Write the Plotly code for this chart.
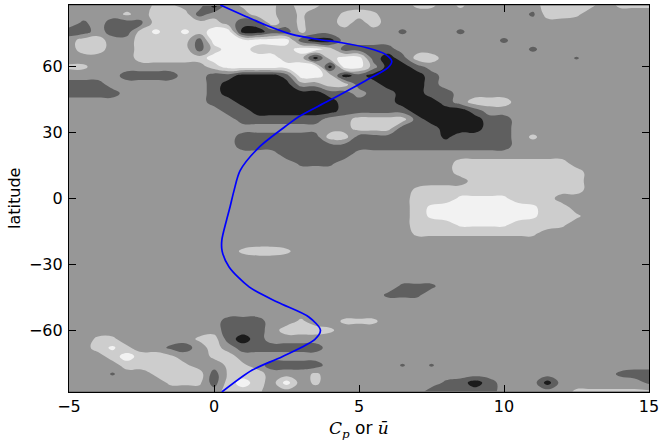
import numpy as np
import plotly.graph_objects as go

# Longitude-mean field on a 0.5 x 4 degree grid, one string per latitude row
# (north to south), one character per grid column from -5 to 15.
# Codes: 0 black, 1 dark, 2 background, 3 light, 4 white; letters are
# in-between values for small spots.
FIELD_ROWS = [
    "22222 2ll22 02l3l 23l22 2222l l2l22 22233 3l2ll l",  # 88
    "2222l 23331 2223l 2l22l 3l222 22222 22d33 l2222 2",  # 84
    "2d211 d3333 32113 2l223 23222 22222 22222 22222 2",  # 80
    "11211 3w3w3 44001 1l222 222d2 22d22 22222 22222 2",  # 76
    "23322 33331 44444 41002 22222 22222 d2222 22222 2",  # 72
    "23322 33331 34433 34431 11122 22222 22d22 22222 2",  # 68
    "22222 33333 44444 33034 41013 32222 22222 e2222 2",  # 64
    "ll222 22222 34444 44404 42001 22222 22222 22222 2",  # 60
    "22221 11122 11000 14430 10000 12222 22222 22222 2",  # 56
    "11122 22222 10000 02233 11000 12222 22222 22222 2",  # 52
    "11112 22222 10000 00011 21100 11222 22222 22222 2",  # 48
    "22222 22222 11000 00001 11100 01233 32222 22222 2",  # 44
    "22222 22222 21100 00001 11110 00012 22222 22222 2",  # 40
    "22222 22222 22111 11122 33331 00001 12222 22222 2",  # 36
    "22222 22222 22222 22222 33311 10001 12222 22222 2",  # 32
    "22222 22222 22111 11133 11111 1k111 12l22 22222 2",  # 28
    "22222 22222 22111 11111 11111 11111 12222 22222 2",  # 24
    "22222 22222 22222 11111 22222 22222 22222 22222 2",  # 20
    "22222 22222 22222 2ddd2 22222 22333 33333 22222 2",  # 16
    "22222 22222 22222 22222 22222 22333 33333 32222 2",  # 12
    "22222 22222 22222 22222 22222 22233 33333 32222 2",  # 8
    "22222 22222 22222 22222 2222l 33333 33333 32222 2",  # 4
    "22222 22222 22222 22222 22223 33www w3332 22222 2",  # 0
    "22222 22222 22222 22222 22223 w4444 44w33 22222 2",  # -4
    "22222 22222 22222 22222 22223 w4444 44w33 l2222 2",  # -8
    "22222 22222 22222 22222 22223 33www w333l 22222 2",  # -12
    "22222 22222 22222 22222 2222l lllll lll22 22222 2",  # -16
    "22222 22222 22222 22222 22222 22222 22222 22222 2",  # -20
    "22222 22222 22l33 l2222 22222 22222 22222 22222 2",  # -24
    "22222 22222 22222 22222 22222 22222 22222 22222 2",  # -28
    "22222 22222 22222 22222 22222 22222 22222 22222 2",  # -32
    "22222 22222 22222 22222 22222 22222 22222 22222 2",  # -36
    "22222 22222 22222 22222 222dd d2222 22222 22222 2",  # -40
    "22222 22222 22222 22222 22ddd 22222 22222 22222 2",  # -44
    "22222 22222 22222 22222 22222 22222 22222 22222 2",  # -48
    "22222 22222 22222 22222 22222 22222 22222 22222 2",  # -52
    "22222 22222 21112 2l22l ll222 22222 22222 22222 2",  # -56
    "22222 22222 21112 333l2 22222 22222 22222 22222 2",  # -60
    "22ll2 2222l 31012 22222 22222 22222 22222 22222 2",  # -64
    "223wl 22d12 32111 11122 22222 22222 22222 22222 2",  # -68
    "22234 33l22 l3222 22222 22222 22222 22222 22222 2",  # -72
    "22223 333l2 2ll21 11122 222e2 e2222 22222 22222 2",  # -76
    "222e2 2l333 1l332 22l22 22222 22222 22222 222d1 1",  # -80
    "22222 22lll 13432 42l22 22222 2d101 22202 22222 d",  # -84
    "22222 22222 233l2 22222 22222 11111 22222 lllll l",  # -88
]
CODE_VALUES = {"0": 0.0, "k": 0.3, "1": 1.0, "d": 1.3, "e": 1.4, "2": 2.0,
               "l": 2.7, "3": 3.0, "w": 3.7, "4": 4.0}

X_GRID = np.arange(-5.0, 15.01, 0.5)
LAT_GRID = np.arange(88.0, -88.1, -4.0)

# Zonal-mean wind profile
LINE_U = [0.22, 1.06, 1.8, 2.69, 3.55, 4.41, 5.3, 5.9, 6.13, 6.0, 5.21, 3.95,
          2.92, 2.58, 1.55, 0.9, 0.69, 0.55, 0.43, 0.27, 0.28, 0.52,
          1.21, 2.2, 3.27, 3.67, 3.48, 2.35, 1.32, 0.27]
LINE_LAT = [88.2, 83.2, 79.0, 74.8, 72.6, 71.0, 68.6, 65.8, 62.5, 59.7, 53.6,
            44.5, 37.3, 34.0, 23.3, 12.7, 3.6, -4.0, -10.0, -19.0, -24.0,
            -31.2, -40.3, -47.3, -54.0, -60.0, -64.2, -72.1, -78.2, -88.2]

X_TICKS = [-5, 0, 5, 10, 15]
X_TICK_TEXT = ["\u22125", "0", "5", "10", "15"]
Y_TICKS = [-60, -30, 0, 30, 60]
Y_TICK_TEXT = ["\u221260", "\u221230", "0", "30", "60"]

BAND_COLORS = ["#1b1b1b", "#5f5f5f", "#979797", "#cdcdcd", "#f2f2f2"]

rows = [r.replace(" ", "") for r in FIELD_ROWS]
for r in rows:
    assert len(r) == len(X_GRID), len(r)
z = np.array([[CODE_VALUES[ch] for ch in r] for r in rows])[::-1]
lat = LAT_GRID[::-1]

# stepped scale: one flat colour per band
scale = []
edges = [0.0, 0.125, 0.375, 0.625, 0.875, 1.0]
for i, c in enumerate(BAND_COLORS):
    scale.append([edges[i], c])
    scale.append([edges[i + 1], c])

fig = go.Figure()
fig.add_trace(go.Contour(
    x=X_GRID, y=lat, z=z,
    autocontour=False,
    contours=dict(start=0.5, end=3.5, size=1, coloring="fill", showlines=False),
    colorscale=scale, zmin=0, zmax=4, showscale=False,
    line=dict(width=0, smoothing=1.3),
    hoverinfo="skip",
))
fig.add_trace(go.Scatter(
    x=LINE_U, y=LINE_LAT, mode="lines",
    line=dict(color="#0000ff", width=1.7, shape="spline", smoothing=0.8),
    hoverinfo="skip", showlegend=False,
))

axis_common = dict(
    showgrid=False, zeroline=False, showline=True, linecolor="black",
    linewidth=1.2, mirror="ticks", ticks="inside", ticklen=7, tickwidth=1,
    tickcolor="black", tickfont=dict(family="DejaVu Sans", size=16, color="black"),
)
fig.update_xaxes(range=[-5, 15], tickvals=X_TICKS, ticktext=X_TICK_TEXT,
                 **axis_common)
fig.update_yaxes(range=[-88.2, 88.2], tickvals=Y_TICKS, ticktext=Y_TICK_TEXT,
                 ticklabelstandoff=2, **axis_common)

math = "font-family:'DejaVu Serif'"
xlabel = (f"<span style=\"{math}\"><i>C</i><sub><i>p</i></sub></span>"
          f" or <span style=\"{math}\"><i>\u016b</i></span>")
fig.add_annotation(text=xlabel, xref="paper", yref="paper", x=0.5, y=-0.098,
                   xanchor="center", yanchor="middle", showarrow=False,
                   font=dict(family="DejaVu Sans", size=17, color="black"))
fig.add_annotation(text="latitude", xref="paper", yref="paper", x=-0.094,
                   y=0.5, xanchor="center", yanchor="middle", textangle=-90,
                   showarrow=False,
                   font=dict(family="DejaVu Sans", size=16, color="black"))

fig.update_layout(
    width=663, height=447,
    margin=dict(l=69, r=11, t=4, b=55),
    paper_bgcolor="white", plot_bgcolor="#979797",
    showlegend=False,
)
fig.write_html("out.html")
